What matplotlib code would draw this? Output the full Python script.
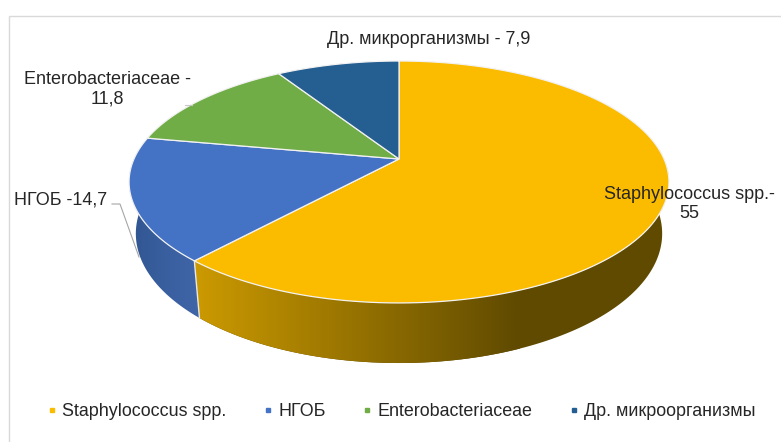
import numpy as np
import matplotlib
matplotlib.use('Agg')
import matplotlib.pyplot as plt
from matplotlib.colors import LinearSegmentedColormap
from matplotlib.lines import Line2D
from matplotlib.patches import Polygon, Rectangle

plt.rcParams['font.family'] = ['Liberation Sans', 'DejaVu Sans']

names = ['Staphylococcus spp.', 'НГОБ', 'Enterobacteriaceae', 'Др. микроорганизмы']
values = [55, 14.7, 11.8, 7.9]
colors = ['#FBBC00', '#4472C4', '#70AD47', '#255E91']

# side wall shades, left to right
side_shades = {0: ['#CC9A00', '#5F4A00'],
               1: ['#2F5590', '#3A5F9F', '#4166A8']}

# picture geometry of the tilted disc (pixels)
cx, cy = 399, 159
persp = 0.19
sx, sy = 265, 116.6
depth = 50
bottom_sx, bottom_sy = 0.975, 1.07


def rim(t, bottom=False):
    # t is clockwise from the top of the pie, radians
    x = np.sin(t)
    y = np.cos(t)
    w = 1 + persp * y
    px = sx * x / w
    py = sy * y / w
    if bottom:
        return cx + bottom_sx * px, cy + depth - bottom_sy * py
    return cx + px, cy - py


fig = plt.figure(figsize=(7.81, 4.42), dpi=100)
ax = fig.add_axes([0, 0, 1, 1])
ax.set_xlim(0, 781)
ax.set_ylim(442, 0)
ax.axis('off')

ax.add_patch(Rectangle((9, 16), 790, 440, facecolor='white', edgecolor='#D9D9D9', lw=1))

fractions = np.array(values) / sum(values)
edges = np.concatenate([[0], np.cumsum(fractions)]) * 2 * np.pi

# side wall, only the front part of the rim can be seen
front_from = np.radians(85)
front_to = np.radians(275)
for i in side_shades:
    t0 = max(edges[i], front_from)
    t1 = min(edges[i + 1], front_to)
    t = np.linspace(t0, t1, 120)
    tx, ty = rim(t)
    bx, by = rim(t, bottom=True)
    xs = np.concatenate([tx, bx[::-1]])
    ys = np.concatenate([ty, by[::-1]])
    cmap = LinearSegmentedColormap.from_list('side%d' % i, side_shades[i])
    if i == 0:
        # reads left to right, stays dark on the right part
        extent = [xs.min(), 520, ys.max(), ys.min()]
        ax.add_patch(Polygon(np.column_stack([xs, ys]), facecolor='#5F4A00', edgecolor='none'))
    else:
        extent = [xs.min(), xs.max(), ys.max(), ys.min()]
    im = ax.imshow(np.linspace(0, 1, 256).reshape(1, -1), cmap=cmap, extent=extent, aspect='auto', zorder=2)
    clip = Polygon(np.column_stack([xs, ys]), transform=ax.transData)
    im.set_clip_path(clip)
ax.set_xlim(0, 781)
ax.set_ylim(442, 0)

# seam between the yellow and blue walls
seam_x = [rim(edges[1])[0], rim(edges[1], bottom=True)[0]]
seam_y = [rim(edges[1])[1], rim(edges[1], bottom=True)[1]]
ax.plot(seam_x, seam_y, color='#E8E8E8', lw=1, zorder=3)

# top of the pie
for i in range(len(values)):
    t = np.linspace(edges[i], edges[i + 1], 200)
    tx, ty = rim(t)
    pts = np.column_stack([np.concatenate([[cx], tx]), np.concatenate([[cy], ty])])
    ax.add_patch(Polygon(pts, closed=True, facecolor=colors[i], edgecolor='#F2F2F2', lw=0.9, zorder=4))

# leader lines
ax.plot([112, 120, 139], [204, 204, 257], color='#A6A6A6', lw=0.8, zorder=5)
ax.plot([185, 192], [105, 105], color='#C8C8C8', lw=0.8, zorder=5)

# data labels
text_color = '#262626'
label_size = 13
ax.text(429, 40, 'Др. микрорганизмы - 7,9', fontsize=label_size, color=text_color, ha='center', va='center', zorder=6)
ax.text(107, 89, 'Enterobacteriaceae -\n11,8', fontsize=label_size, color=text_color, ha='center', va='center', zorder=6)
ax.text(61, 200, 'НГОБ -14,7', fontsize=label_size, color=text_color, ha='center', va='center', zorder=6)
ax.text(689, 204, 'Staphylococcus spp.-\n55', fontsize=label_size, color=text_color, ha='center', va='center', zorder=6)

handles = [Line2D([], [], linestyle='none', marker='s', markersize=3.2, color=c) for c in colors]
leg = ax.legend(handles, names, ncol=4, loc='center', bbox_to_anchor=(401.5 / 781, 1 - 412 / 442),
                frameon=False, fontsize=12.85, labelcolor=text_color, handlelength=0.5,
                handletextpad=0.3, columnspacing=2.1, borderpad=0)
leg.set_zorder(6)

fig.savefig('out.png', dpi=100)
